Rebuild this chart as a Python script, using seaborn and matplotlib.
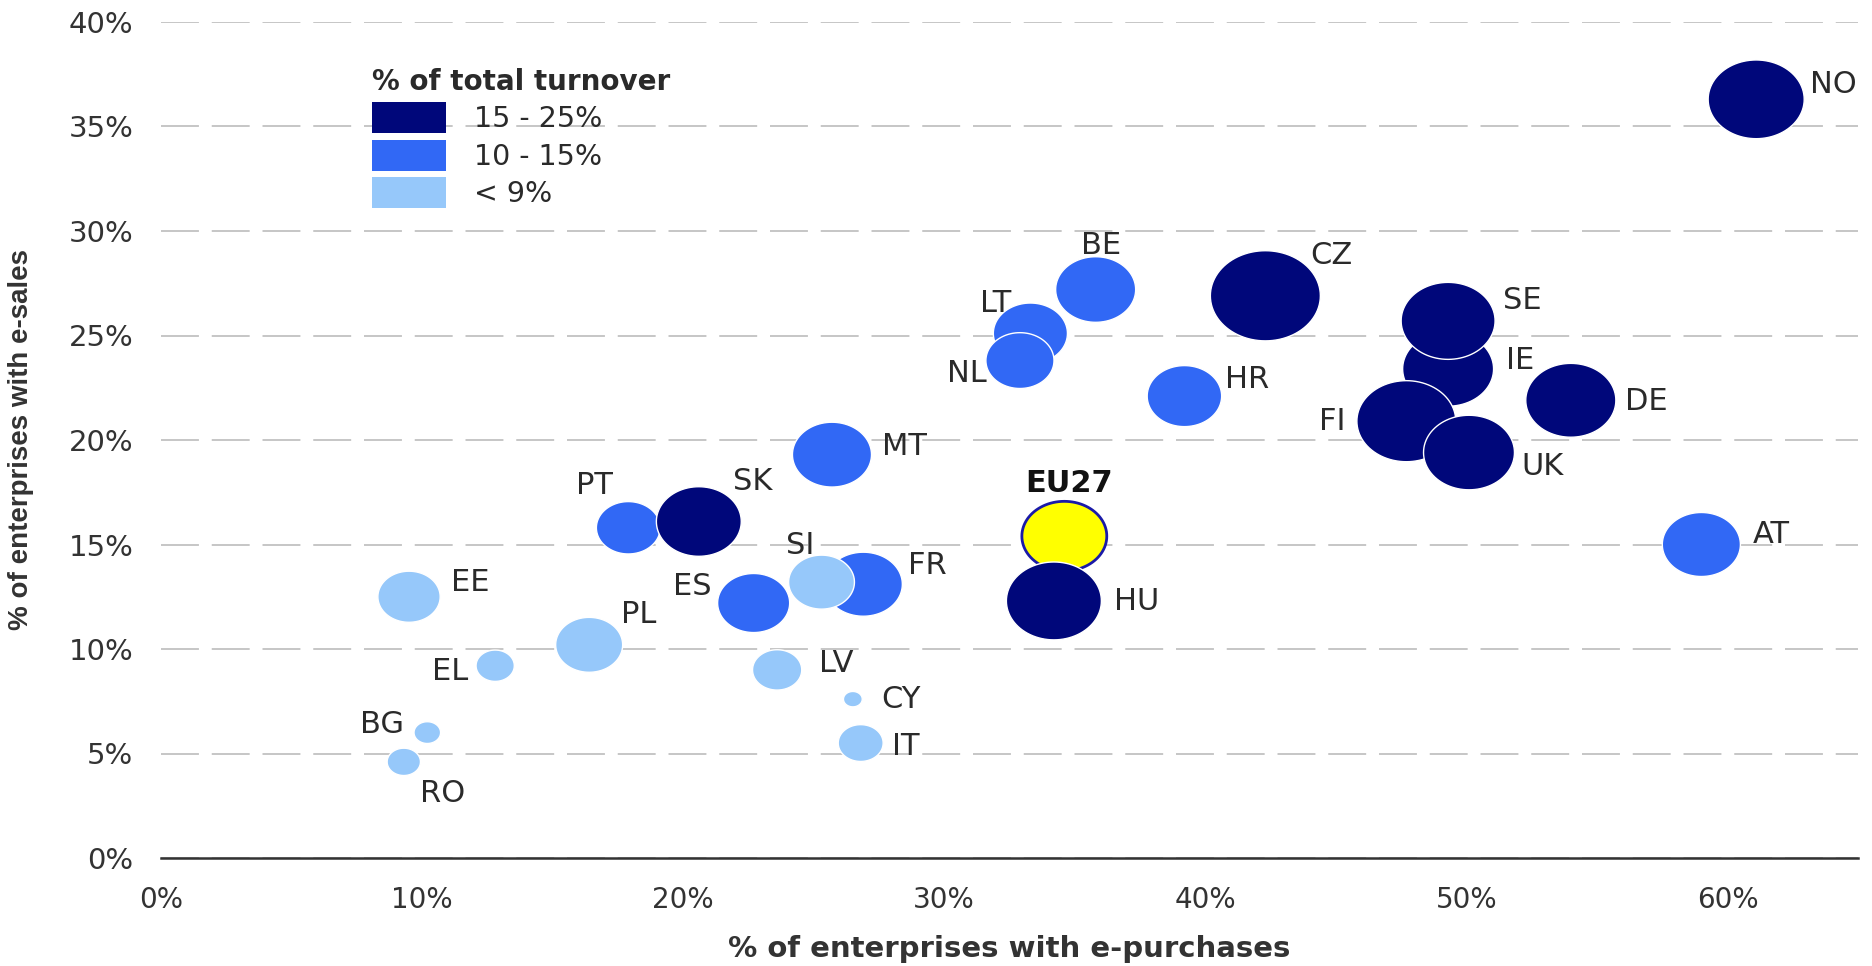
import numpy as np
import pandas as pd
import matplotlib
matplotlib.use("Agg")
import matplotlib.pyplot as plt
from matplotlib.path import Path
from matplotlib.patches import Patch
from matplotlib.ticker import MultipleLocator, PercentFormatter
import seaborn as sns

# ---- data -----------------------------------------------------------------
countries = ["RO", "BG", "EL", "EE", "PL", "LV", "CY", "IT", "PT", "SK",
             "ES", "FR", "SI", "MT", "EU27", "HU", "LT", "NL", "BE", "HR",
             "CZ", "IE", "SE", "FI", "UK", "DE", "AT", "NO"]
e_purchases = [9.3, 10.2, 12.8, 9.5, 16.4, 23.6, 26.5, 26.8, 17.9, 20.6,
               22.7, 26.9, 25.3, 25.7, 34.6, 34.2, 33.3, 32.9, 35.8, 39.2,
               42.3, 49.3, 49.3, 47.7, 50.1, 54.0, 59.0, 61.1]
e_sales = [4.6, 6.0, 9.2, 12.5, 10.2, 9.0, 7.6, 5.5, 15.8, 16.1,
           12.2, 13.1, 13.2, 19.3, 15.4, 12.3, 25.1, 23.8, 27.2, 22.1,
           26.9, 23.4, 25.7, 20.9, 19.4, 21.9, 15.0, 36.3]
weight = [2.2, 1.4, 2.9, 7.7, 8.9, 4.8, 0.7, 4.0, 8.1, 14.3,
          10.3, 12.1, 8.6, 12.4, 14.3, 17.9, 10.9, 9.2, 12.7, 11.0,
          24.0, 16.4, 17.5, 19.4, 16.4, 16.1, 12.1, 18.3]
turnover_band = ["< 9%", "< 9%", "< 9%", "< 9%", "< 9%", "< 9%", "< 9%", "< 9%",
                 "10 - 15%", "15 - 25%", "10 - 15%", "10 - 15%", "< 9%",
                 "10 - 15%", "EU27", "15 - 25%", "10 - 15%", "10 - 15%",
                 "10 - 15%", "10 - 15%", "15 - 25%", "15 - 25%", "15 - 25%",
                 "15 - 25%", "15 - 25%", "15 - 25%", "10 - 15%", "15 - 25%"]
band_order = ["15 - 25%", "10 - 15%", "< 9%"]

legend_title = "% of total turnover"
x_label = "% of enterprises with e-purchases"
y_label = "% of enterprises with e-sales"

# ---- styling / layout -----------------------------------------------------
palette = {"15 - 25%": "#00077A", "10 - 15%": "#3168F5",
           "< 9%": "#96C8FA", "EU27": "#FFFF00"}
text_color = "#2A2A2A"

# label offsets from bubble centre, in pixels (right, down)
label_offset = {
    "RO": (39, 32), "BG": (-45, -8), "EL": (-45, 6), "EE": (61, -14),
    "PL": (50, -30), "LV": (59, -6), "CY": (48, 0), "IT": (45, 3),
    "PT": (-34, -42), "SK": (54, -40), "ES": (-61, -17), "FR": (64, -19),
    "SI": (-21, -37), "MT": (72, -8), "EU27": (5, -53), "HU": (83, 1),
    "LT": (-35, -30), "NL": (-53, 13), "BE": (5, -44), "HR": (63, -17),
    "CZ": (66, -40), "IE": (72, -8), "SE": (74, -20), "FI": (-74, 0),
    "UK": (74, 14), "DE": (75, 1), "AT": (70, -10), "NO": (77, -15),
}

sns.set_style("white")
plt.rcParams["font.family"] = ["DejaVu Sans"]

W, H = 1872, 966
fig = plt.figure(figsize=(W / 100, H / 100), dpi=100)
ax = fig.add_axes([161 / W, 1 - 858 / H, 1697 / W, 836 / H])

df = pd.DataFrame({"country": countries, "x": e_purchases, "y": e_sales,
                   "w": weight, "band": turnover_band})

# slightly flattened bubble shape
t = np.linspace(0, 2 * np.pi, 97)
ellipse = Path(np.column_stack([np.cos(t), np.sin(t) / 1.22]), closed=True)

sns.scatterplot(data=df, x="x", y="y", hue="band", palette=palette,
                size="w", sizes=(0, 6273), size_norm=(0, 24),
                marker=ellipse, edgecolor="white", linewidth=1.0,
                legend=False, ax=ax, zorder=3, clip_on=False)

coll = ax.collections[0]
coll.set_edgecolors(["#1A1AA8" if b == "EU27" else "white" for b in turnover_band])
coll.set_linewidths([2.0 if b == "EU27" else 1.0 for b in turnover_band])

for c, x, y in zip(countries, e_purchases, e_sales):
    dx, dy = label_offset[c]
    ax.annotate(c, (x, y), xytext=(dx / 1.3889, -dy / 1.3889),
                textcoords="offset points", ha="center", va="center",
                fontsize=22, color="#111111" if c == "EU27" else text_color,
                fontweight="bold" if c == "EU27" else "normal", zorder=5)

ax.set_xlim(0, 65)
ax.set_ylim(0, 40)
ax.xaxis.set_major_locator(MultipleLocator(10))
ax.yaxis.set_major_locator(MultipleLocator(5))
ax.xaxis.set_major_formatter(PercentFormatter(xmax=100, decimals=0))
ax.yaxis.set_major_formatter(PercentFormatter(xmax=100, decimals=0))

ax.tick_params(axis="x", direction="out", length=5, width=1.4, color="#333333",
               labelsize=20, pad=15, labelcolor="#333333")
ax.tick_params(axis="y", length=0, labelsize=21, pad=20, labelcolor="#333333")

sns.despine(ax=ax, left=True)
ax.spines["bottom"].set_linewidth(1.8)
ax.spines["bottom"].set_color("#333333")

ax.yaxis.grid(True, color="#C6C6C6", linewidth=1.4, linestyle=(0, (19.5, 6.6)))
ax.xaxis.grid(False)
ax.set_axisbelow(True)

ax.set_xlabel(x_label, fontsize=21, fontweight="bold", color="#333333")
ax.xaxis.label.set_va("center")
ax.xaxis.set_label_coords(0.5, (858 - 949) / 836)

ax.set_ylabel(y_label, fontsize=20, fontweight="bold", color="#333333",
              family="Liberation Sans")
ax.yaxis.label.set_va("center")
ax.yaxis.set_label_coords((21 - 161) / 1697, 0.5)

handles = [Patch(facecolor=palette[b], edgecolor="none", label=b) for b in band_order]
leg = fig.legend(handles=handles, title=legend_title, loc="upper left",
                 bbox_to_anchor=(372 / W, 1 - 68 / H), frameon=False,
                 fontsize=20.5, title_fontproperties={"weight": "bold", "size": 20},
                 alignment="left", handlelength=2.6, handleheight=1.3,
                 labelspacing=0.22, handletextpad=0.98, borderpad=0,
                 borderaxespad=0)
for txt in leg.get_texts():
    txt.set_color(text_color)
leg.get_title().set_color(text_color)

fig.savefig("out.png", dpi=100)
